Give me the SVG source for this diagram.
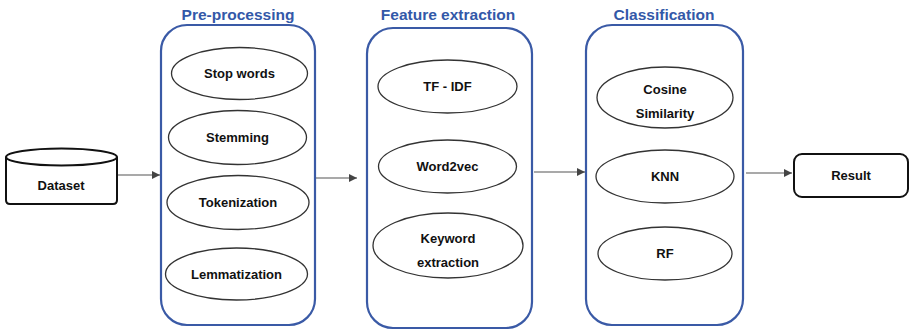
<svg xmlns="http://www.w3.org/2000/svg" width="910" height="331" viewBox="0 0 910 331">
<style>
.stage{fill:#fff;stroke:#3a5aa6;stroke-width:2.2}
.title{font-family:"Liberation Sans",Arial,sans-serif;font-weight:bold;font-size:15.5px;fill:#3358a8;text-anchor:middle}
.ell{fill:#fff;stroke:#333;stroke-width:1.3}
.lbl{font-family:"Liberation Sans",Arial,sans-serif;font-weight:bold;font-size:13px;fill:#111;text-anchor:middle}
.edge{stroke:#555;stroke-width:1.1;fill:none;marker-end:url(#arr)}
.term{fill:#fff;stroke:#111;stroke-width:2}
</style>
<defs>
<marker id="arr" viewBox="0 0 10 10" refX="10" refY="5" markerWidth="8" markerHeight="8" markerUnits="userSpaceOnUse" orient="auto">
<path d="M0,0 L10,5 L0,10 Z" fill="#444"/>
</marker>
</defs>
<rect width="910" height="331" fill="#fff"/>

<g id="connectors">
<line class="edge" x1="117" y1="175" x2="160" y2="175"/>
<line class="edge" x1="316" y1="178" x2="357" y2="178"/>
<line class="edge" x1="534" y1="172" x2="585" y2="172"/>
<line class="edge" x1="746" y1="173" x2="792" y2="173"/>
</g>

<g id="dataset">
<path class="term" d="M6,157 L6,200 Q6,204 10,204 L113,204 Q117,204 117,200 L117,157"/>
<ellipse class="term" cx="61.5" cy="157" rx="55.5" ry="8.5"/>
<text class="lbl" x="61" y="190">Dataset</text>
</g>

<g id="preprocessing">
<text class="title" x="238" y="20">Pre-processing</text>
<rect class="stage" x="161" y="25" width="154" height="300" rx="26"/>
<g id="stopwords"><ellipse class="ell" cx="239.5" cy="73.5" rx="68" ry="26"/><text class="lbl" x="239.5" y="78">Stop words</text></g>
<g id="stemming"><ellipse class="ell" cx="237.5" cy="137.5" rx="69" ry="27"/><text class="lbl" x="237.5" y="142">Stemming</text></g>
<g id="tokenization"><ellipse class="ell" cx="238" cy="202.5" rx="71" ry="27"/><text class="lbl" x="238" y="207">Tokenization</text></g>
<g id="lemmatization"><ellipse class="ell" cx="236.5" cy="274" rx="71" ry="26"/><text class="lbl" x="236.5" y="278.5">Lemmatization</text></g>
</g>

<g id="featureextraction">
<text class="title" x="448" y="20">Feature extraction</text>
<rect class="stage" x="367" y="28" width="165" height="300" rx="26"/>
<g id="tfidf"><ellipse class="ell" cx="447.5" cy="86.5" rx="69.5" ry="26.5"/><text class="lbl" x="447.5" y="91">TF - IDF</text></g>
<g id="word2vec"><ellipse class="ell" cx="447.5" cy="166.5" rx="69" ry="26.5"/><text class="lbl" x="447.5" y="171">Word2vec</text></g>
<g id="keyword"><ellipse class="ell" cx="448" cy="245.5" rx="75" ry="32.5"/><text class="lbl" x="448" y="243">Keyword</text><text class="lbl" x="448" y="266.5">extraction</text></g>
</g>

<g id="classification">
<text class="title" x="664" y="20">Classification</text>
<rect class="stage" x="586" y="25" width="157" height="300" rx="26"/>
<g id="cosine"><ellipse class="ell" cx="665" cy="97.5" rx="68" ry="30.5"/><text class="lbl" x="665" y="93.5">Cosine</text><text class="lbl" x="665" y="117.5">Similarity</text></g>
<g id="knn"><ellipse class="ell" cx="665" cy="176.5" rx="69" ry="26.5"/><text class="lbl" x="665" y="181">KNN</text></g>
<g id="rf"><ellipse class="ell" cx="665" cy="253.5" rx="67" ry="26.5"/><text class="lbl" x="665" y="258">RF</text></g>
</g>

<g id="result">
<rect class="term" x="794" y="154" width="114" height="43" rx="8"/>
<text class="lbl" x="851" y="180">Result</text>
</g>
</svg>
